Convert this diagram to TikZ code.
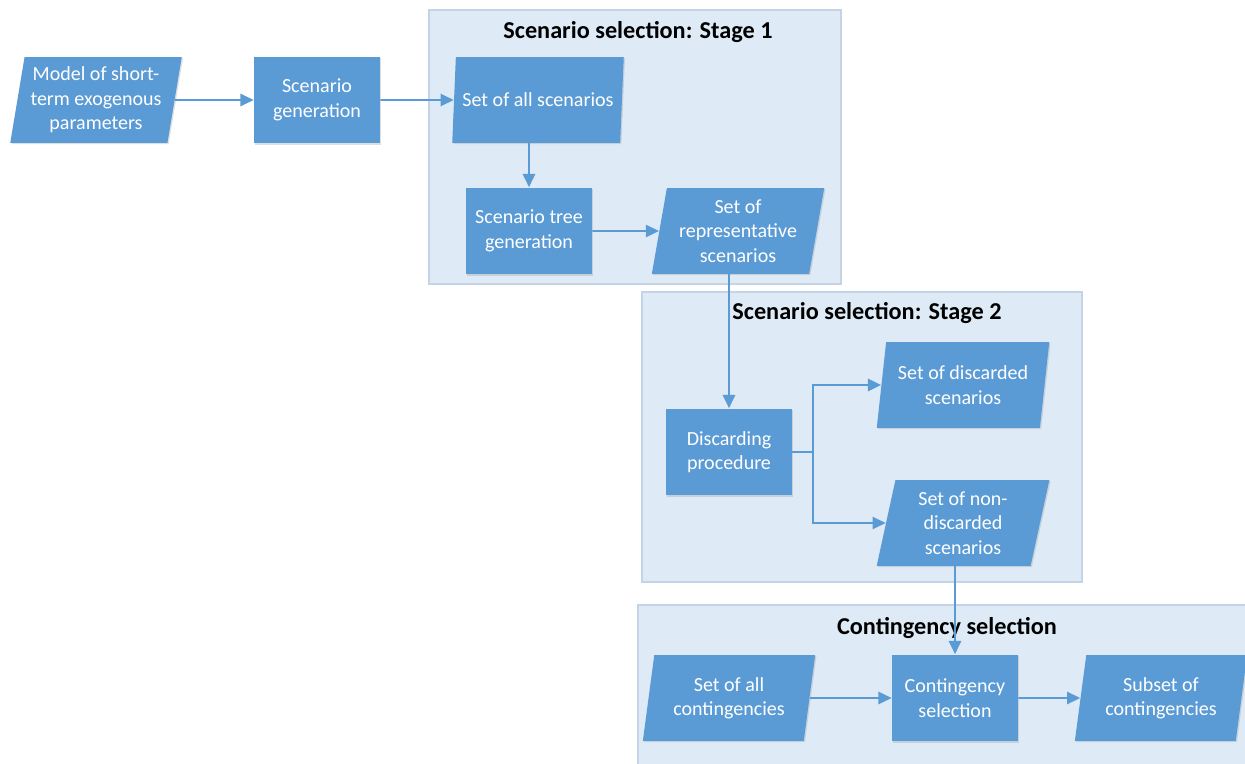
\documentclass[tikz,border=0pt]{standalone}
\usepackage{fontspec}
\setmainfont{Carlito}
\usetikzlibrary{arrows.meta, calc, shapes.geometric, shadows, positioning}

\definecolor{stepblue}{HTML}{5B9BD5}
\definecolor{groupfill}{HTML}{DEEBF7}
\definecolor{groupline}{HTML}{C4D4E4}

\tikzset{
    procbox/.style={fill=stepblue, text=white, align=center, inner sep=2pt,
        minimum width=2.52cm, minimum height=1.74cm,
        font=\fontsize{11.4}{13.9}\selectfont,
        drop shadow={shadow xshift=0.7pt, shadow yshift=-0.7pt, opacity=0.25}},
    databox/.style={trapezium, trapezium left angle=79, trapezium right angle=101,
        trapezium stretches=true, fill=stepblue, text=white, align=center, inner sep=1pt,
        minimum width=3.46cm, minimum height=1.72cm,
        font=\fontsize{11.4}{13.9}\selectfont,
        drop shadow={shadow xshift=0.7pt, shadow yshift=-0.7pt, opacity=0.25}},
    groupbox/.style={fill=groupfill, draw=groupline, line width=0.6pt,
        drop shadow={shadow xshift=0.6pt, shadow yshift=-0.6pt, opacity=0.15}},
    grouptitle/.style={font=\fontsize{13.8}{16}\selectfont\bfseries},
    flow/.style={draw=stepblue, line width=1.1pt, -{Triangle[length=7.5pt, width=7pt]}}
}

\begin{document}
\begin{tikzpicture}[x=0.02cm, y=-0.02cm]
    \clip (0,0) rectangle (1245,764);

%%%%%%%%%%%%%%%%%%%%%%%%%%%%%%%%%%%%%%%%%%
% group boxes
    \path[groupbox] (429,10) rectangle (841,284);
    \path[groupbox] (642,292) rectangle (1082,582);
    \path[groupbox] (638,605) rectangle (1300,820);

    \node[grouptitle] (t1) at (638,32) {Scenario selection: Stage 1};
    \node[grouptitle] (t2) at (867,313) {Scenario selection: Stage 2};
    \node[grouptitle] (t3) at (947,628) {Contingency selection};

%%%%%%%%%%%%%%%%%%%%%%%%%%%%%%%%%%%%%%%%%%
% blocks
    \node[databox] (model) at (96,100) {Model of short-\\term exogenous\\parameters};
    \node[procbox] (gen) at (317,100) {Scenario\\generation};
    \node[databox] (allscen) at (538,100) {Set of all scenarios};
    \node[procbox] (tree) at (529,231) {Scenario tree\\generation};
    \node[databox] (rep) at (738,231) {Set of\\representative\\scenarios};

    \node[procbox] (disc) at (729,452) {Discarding\\procedure};
    \node[databox] (discarded) at (963,385) {Set of discarded\\scenarios};
    \node[databox] (nondisc) at (963,523) {Set of non-\\discarded\\scenarios};

    \node[databox] (allcont) at (729,698) {Set of all\\contingencies};
    \node[procbox] (contsel) at (955,698) {Contingency\\selection};
    \node[databox] (subset) at (1161,698) {Subset of\\contingencies};

%%%%%%%%%%%%%%%%%%%%%%%%%%%%%%%%%%%%%%%%%%
% connectors
    \draw[flow] (model.east) -- (gen.west);
    \draw[flow] (gen.east) -- (allscen.west);
    \draw[flow] (allscen.south -| tree.north) -- (tree.north);
    \draw[flow] (tree.east) -- (rep.west);
    \draw[flow] (rep.south -| disc.north) -- (disc.north);
    \coordinate (split) at ($(disc.east)+(21,0)$);
    \draw[flow] (disc.east) -- (split) |- (discarded.west);
    \draw[flow] (split) |- (nondisc.west);
    \draw[flow] (nondisc.south -| contsel.north) -- (contsel.north);
    \draw[flow] (allcont.east) -- (contsel.west);
    \draw[flow] (contsel.east) -- (subset.west);
\end{tikzpicture}
\end{document}
